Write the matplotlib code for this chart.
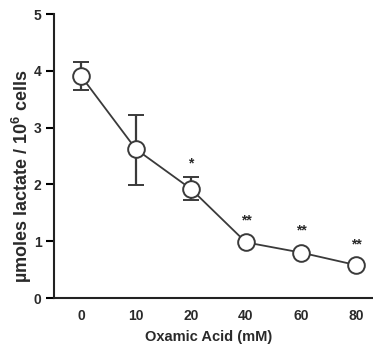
import matplotlib
matplotlib.use("Agg")
import matplotlib.pyplot as plt

# datos
conc_labels = ["0", "10", "20", "40", "60", "80"]
lactate = [3.91, 2.62, 1.92, 0.98, 0.80, 0.58]
err_upper = [0.24, 0.60, 0.21, 0.0, 0.0, 0.0]
err_lower = [0.24, 0.63, 0.20, 0.0, 0.0, 0.0]
signif = ["", "", "*", "**", "**", "**"]
signif_y = [0, 0, 2.36, 1.36, 1.19, 0.95]

plt.rcParams["font.family"] = ["Liberation Sans", "DejaVu Sans"]
plt.rcParams["font.weight"] = "bold"
plt.rcParams["axes.labelweight"] = "bold"
plt.rcParams["mathtext.fontset"] = "custom"
plt.rcParams["mathtext.bf"] = "Liberation Sans:bold"
plt.rcParams["mathtext.rm"] = "Liberation Sans:bold"

txt = "#2a2a2a"
fig = plt.figure(figsize=(3.73, 3.49), dpi=100)
ax = fig.add_axes([54 / 373, 1 - 298 / 349, 1 - 54 / 373, (298 - 14) / 349])

x = list(range(len(conc_labels)))
ax.errorbar(x, lactate, yerr=[err_lower, err_upper], fmt="-o", color="#3a3a3a",
            lw=1.3, elinewidth=1.6, capsize=5.5, capthick=1.6,
            marker="o", ms=12, mfc="white", mec="#3a3a3a", mew=1.4, zorder=3)

for xi, s, sy in zip(x, signif, signif_y):
    if s:
        ax.text(xi, sy, s, ha="center", va="center", fontsize=10,
                fontweight="bold", color=txt)

ax.set_xlim(-0.49, 5.31)
ax.set_ylim(0, 5)
ax.set_xticks(x)
ax.set_xticklabels(conc_labels)
ax.set_yticks([0, 1, 2, 3, 4, 5])
ax.tick_params(axis="x", length=0, pad=8, labelsize=10, labelcolor=txt)
ax.tick_params(axis="y", length=6, width=1.5, pad=3, labelsize=10, labelcolor=txt)
for lab in ax.get_xticklabels() + ax.get_yticklabels():
    lab.set_fontweight("bold")
for sp in ["top", "right"]:
    ax.spines[sp].set_visible(False)
for sp in ["left", "bottom"]:
    ax.spines[sp].set_linewidth(1.5)
    ax.spines[sp].set_color("#222222")

ax.set_xlabel("Oxamic Acid (mM)", fontsize=10.5, color=txt)
ax.xaxis.set_label_coords(0.484, -0.112)
ax.set_ylabel(r"µmoles lactate / 10$^{\mathbf{6}}$ cells", fontsize=13,
              color=txt)
ax.yaxis.set_label_coords(-0.064, 0.43)

fig.savefig("out.png", dpi=100)
